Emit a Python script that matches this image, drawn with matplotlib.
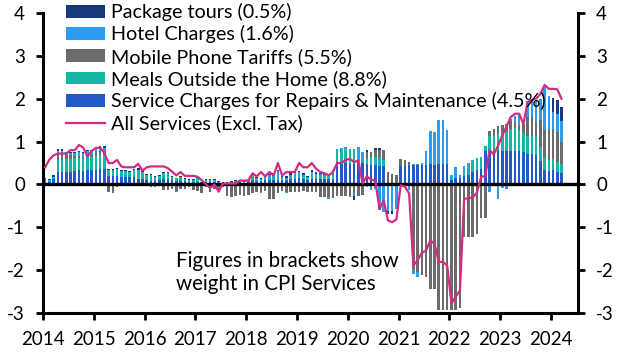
import matplotlib
matplotlib.use('Agg')
import matplotlib.pyplot as plt
from matplotlib.patches import Patch
from matplotlib.lines import Line2D
import numpy as np

plt.rcParams['font.family'] = ['Lato', 'DejaVu Sans']

# monthly contributions, Jan 2014 - Mar 2024 (percentage points)
years = ['2014', '2015', '2016', '2017', '2018', '2019', '2020', '2021', '2022', '2023', '2024']

service_charges = [
    0.10, 0.05, 0.12, 0.29, 0.28, 0.30, 0.30, 0.31, 0.33, 0.32, 0.33, 0.33,
    0.34, 0.35, 0.35, 0.20, 0.19, 0.20, 0.18, 0.18, 0.17, 0.17, 0.12, 0.12,
    0.10, 0.08, 0.08, 0.10, 0.12, 0.12, 0.10, 0.08, 0.08, 0.07, 0.06, 0.06,
    0.06, 0.02, 0.05, 0.05, 0.05, 0.03, 0.02, 0.02, 0.04, 0.04, 0.02, 0.04,
    0.05, 0.10, 0.08, 0.08, 0.10, 0.10, 0.10, 0.10, 0.10, 0.10, 0.12, 0.12,
    0.14, 0.12, 0.10, 0.12, 0.12, 0.12, 0.12, 0.12, 0.12, 0.44, 0.48, 0.50,
    0.48, 0.48, 0.50, 0.50, 0.48, 0.45, 0.45, 0.42, 0.42, 0.00, 0.00, 0.00,
    0.43, 0.43, 0.45, 0.46, 0.45, 0.46, 0.46, 0.47, 0.46, 0.48, 0.48, 0.47,
    0.10, 0.15, 0.16, 0.20, 0.23, 0.29, 0.33, 0.37, 0.79, 0.79, 0.79, 0.79,
    0.79, 0.79, 0.79, 0.79, 0.78, 0.76, 0.72, 0.70, 0.68, 0.55, 0.34, 0.32,
    0.33, 0.29, 0.26]

meals = [
    0.03, 0.06, 0.03, 0.27, 0.30, 0.30, 0.30, 0.30, 0.28, 0.28, 0.30, 0.30,
    0.32, 0.33, 0.33, 0.12, 0.12, 0.14, 0.12, 0.12, 0.13, 0.14, 0.20, 0.18,
    0.12, 0.12, 0.08, 0.10, 0.12, 0.12, 0.06, 0.06, 0.07, 0.05, 0.05, 0.05,
    0.06, 0.02, 0.04, 0.04, 0.04, 0.03, 0.02, 0.02, 0.02, 0.02, 0.02, 0.02,
    0.04, 0.05, 0.04, 0.04, 0.05, 0.06, 0.06, 0.04, 0.05, 0.06, 0.06, 0.07,
    0.08, 0.07, 0.04, 0.06, 0.07, 0.08, 0.08, 0.08, 0.12, 0.37, 0.35, 0.33,
    0.34, 0.34, 0.10, 0.05, 0.12, 0.18, 0.20, 0.22, 0.15, 0.00, 0.00, 0.00,
    0.00, 0.00, 0.00, 0.02, 0.02, 0.03, 0.02, 0.03, 0.03, 0.04, 0.04, 0.06,
    0.12, 0.00, 0.00, 0.10, 0.22, 0.25, 0.28, 0.28, 0.11, 0.35, 0.35, 0.39,
    0.40, 0.43, 0.50, 0.52, 0.48, 0.44, 0.40, 0.42, 0.42, 0.33, 0.31, 0.26,
    0.27, 0.23, 0.22]

mobile = [
    0, 0, 0, 0.15, 0.13, 0.08, 0.08, 0.05, 0.05, 0.05, 0.06, 0.06,
    0.10, 0.09, 0.09, -0.18, -0.20, -0.05, -0.02, 0, 0, -0.02, -0.02, 0,
    -0.03, -0.05, -0.05, -0.04, -0.14, -0.14, -0.10, -0.15, -0.10, -0.10, -0.05, -0.12,
    -0.15, -0.20, -0.05, -0.18, -0.10, -0.15, -0.05, -0.28, -0.30, -0.28, -0.24, -0.28,
    -0.24, -0.20, -0.18, -0.18, -0.16, -0.35, -0.35, -0.20, -0.16, -0.18, -0.18, -0.18,
    -0.18, -0.16, -0.18, -0.18, -0.18, -0.30, -0.30, -0.30, -0.31, -0.26, -0.28, -0.26,
    -0.26, -0.22, -0.27, -0.25, 0.15, 0.12, 0.15, 0.16, 0.23, 0.30, 0.25, 0.22,
    0.17, 0.13, 0.08, -2.00, -2.05, -2.12, -2.16, -2.43, -2.43, -2.92, -2.92, -2.92,
    -2.92, -2.92, -2.88, -1.23, -1.23, -1.23, -1.15, -0.78, -0.78, 0.10, 0.15, 0.18,
    0.20, 0.20, 0.18, 0.15, 0.13, 0.20, 0.45, 0.45, 0.35, 0.62, 0.63, 0.68,
    0.70, 0.70, 0.51]

hotels = [
    0, 0, 0.03, 0.08, 0.08, 0.05, 0.05, 0.08, 0.10, 0.08, 0.08, 0.08,
    0.08, 0.08, 0.08, 0.02, 0.03, 0.02, 0.02, 0.02, 0, 0.03, 0.02, 0,
    0, 0.02, 0.02, 0, 0.02, 0.02, 0.02, -0.03, 0.02, 0, 0, 0,
    0.02, 0, 0.02, 0.02, 0.02, 0, 0, 0, 0, 0.02, 0, 0,
    0, 0.07, 0.03, -0.02, 0.05, 0.06, 0.07, 0.17, 0.03, -0.02, 0.04, 0.07,
    0.06, 0.04, 0.03, 0.10, 0.05, 0.04, 0.03, -0.03, 0.06, 0.02, 0.02, 0.04,
    -0.04, -0.06, 0.27, 0.20, -0.05, -0.14, -0.10, -0.60, -0.65, -0.63, -0.62, -0.58,
    0, 0, -0.12, -0.10, -0.10, 0, 0.30, 0.75, 0.74, 0.98, 0.98, 0.75,
    0, 0.25, 0.06, 0.14, 0.04, 0.02, 0, 0, 0, -0.18, 0, -0.33,
    -0.08, -0.10, 0.06, 0.14, 0.25, 0, 0.38, 0.40, 0.52, 0.50, 1.00, 0.80,
    0.39, 0.43, 0.50]

package_tours = [
    0.03, 0.02, 0.05, 0.04, 0.04, 0.02, 0.02, 0.02, 0.02, 0.02, 0.03, 0.03,
    0.04, 0.04, 0.04, 0.03, 0.03, 0.03, 0.02, 0.02, 0.02, 0.03, 0.04, 0.04,
    0.03, 0.02, 0.02, 0.03, 0.04, 0.04, 0.02, 0.02, 0.02, 0.02, 0.02, 0.02,
    0.03, 0.01, 0.02, 0.02, 0.02, 0.02, 0.01, 0.01, 0.03, 0.03, 0.02, 0.02,
    0.02, 0.02, 0.02, 0.02, 0.02, 0.03, 0.03, 0.02, 0.02, 0.04, 0.04, 0.04,
    0.04, 0.03, 0.02, 0.05, 0.04, 0.02, 0.03, 0.03, 0.03, -0.02, 0, 0,
    0, -0.08, 0, 0, 0.05, 0, 0.05, 0.05, 0, -0.05, -0.06, 0,
    0, 0, 0, 0, 0, 0, 0, 0, 0, 0, 0, 0,
    0, 0, 0, 0, 0, 0, 0, 0, 0, 0, 0, 0,
    0, 0, 0, 0, 0, 0, 0, 0, 0, 0, 0, 0,
    0.33, 0.32, 0.31]

all_services = [
    0.40, 0.58, 0.68, 0.72, 0.72, 0.72, 0.80, 0.80, 0.92, 0.86, 0.65, 0.78,
    0.85, 0.86, 0.73, 0.50, 0.50, 0.57, 0.42, 0.40, 0.40, 0.40, 0.48, 0.32,
    0.40, 0.42, 0.42, 0.42, 0.42, 0.38, 0.30, 0.21, 0.29, 0.20, 0.20, 0.20,
    0.18, 0.10, 0.00, -0.08, 0.00, -0.17, 0.02, 0.02, 0.02, 0.02, 0.09, 0.09,
    0.09, 0.26, 0.19, 0.29, 0.19, 0.29, 0.21, 0.50, 0.21, 0.29, 0.29, 0.29,
    0.50, 0.40, 0.40, 0.50, 0.37, 0.29, 0.26, 0.21, 0.29, 0.50, 0.50, 0.57,
    0.60, 0.52, 0.56, 0.02, 0.19, 0.11, 0.09, -0.57, -0.37, -0.84, -0.88, -0.82,
    -0.02, -0.05, -0.21, -1.89, -1.77, -1.60, -1.54, -1.31, -1.38, -1.81, -1.81, -1.89,
    -2.78, -2.62, -2.48, -0.33, -0.33, -0.30, -0.20, 0.17, 0.20, 0.80, 0.70, 0.90,
    1.14, 1.35, 1.57, 1.65, 1.65, 1.41, 1.92, 1.97, 2.00, 2.11, 2.32, 2.23,
    2.23, 2.22, 2.00]

series = [
    ('Service Charges for Repairs & Maintenance (4.5%)', service_charges, '#2358cb'),
    ('Meals Outside the Home (8.8%)', meals, '#12b8a5'),
    ('Mobile Phone Tariffs (5.5%)', mobile, '#6b6b6b'),
    ('Hotel Charges (1.6%)', hotels, '#2b9cf2'),
    ('Package tours (0.5%)', package_tours, '#163a7c'),
]
line_color = '#d62a7e'

fig = plt.figure(figsize=(6.24, 3.61), dpi=100)
ax = fig.add_axes([43 / 624, 1 - 313 / 361, (578 - 43) / 624, 300 / 361])

x = np.arange(len(all_services)) + 0.5
pos_bottom = np.zeros(len(x))
neg_bottom = np.zeros(len(x))
for name, vals, col in series:
    v = np.array(vals)
    pos = np.where(v > 0, v, 0)
    neg = np.where(v < 0, v, 0)
    ax.bar(x, pos, 0.6, bottom=pos_bottom, color=col, linewidth=0, zorder=2)
    ax.bar(x, neg, 0.6, bottom=neg_bottom, color=col, linewidth=0, zorder=2)
    pos_bottom += pos
    neg_bottom += neg

ax.axhline(0, color='black', linewidth=2.4, zorder=3)
ax.plot(x, all_services, color=line_color, linewidth=1.6, zorder=4)

ax.set_xlim(0, 126.4)
ax.set_ylim(-3, 4)
ax.set_xticks(np.arange(len(years)) * 12)
ax.set_xticklabels(years)
ax.set_yticks(range(-3, 5))
ax.set_yticklabels([str(t) for t in range(-3, 5)])

for s in ['left', 'right', 'bottom']:
    ax.spines[s].set_linewidth(2.2)
ax.spines['top'].set_visible(False)
ax.tick_params(axis='both', which='both', direction='out', length=5, width=2,
               labelsize=13.5, colors='black')
ax.tick_params(axis='y', right=True, labelright=True, pad=8)
ax.tick_params(axis='x', pad=8)

handles = [Patch(facecolor=c, edgecolor='none') for _, _, c in series[::-1]]
labels = [n for n, _, _ in series[::-1]]
handles.append(Line2D([0], [0], color=line_color, linewidth=1.6))
labels.append('All Services (Excl. Tax)')
fig.legend(handles, labels, loc='upper left', bbox_to_anchor=(66 / 624, 1 - 3 / 361),
           frameon=False, fontsize=14.2, borderaxespad=0, borderpad=0,
           handlelength=2.0, handleheight=0.62, handletextpad=0.3, labelspacing=0.22)

ax.text(0.248, 0.135, 'Figures in brackets show\nweight in CPI Services',
        transform=ax.transAxes, fontsize=14.8, ha='left', va='center', linespacing=1.22)

fig.savefig('out.png', dpi=100)
